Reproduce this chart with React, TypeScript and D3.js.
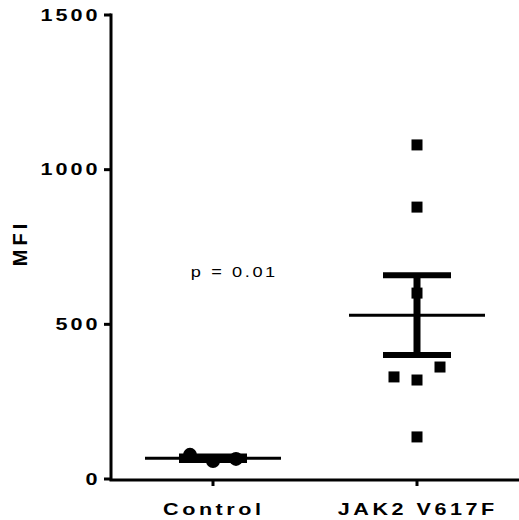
import React from "react";
import * as d3 from "d3";

const groups = ["Control", "JAK2 V617F"];
const controlValues = [78, 58, 65];
const controlJitter = [-1, 0, 1];
const jakValues = [1080, 879, 601, 362, 330, 320, 136];
const jakJitter = [0, 0, 0, 1, -1, 0, 0];
const yTicks = [0, 500, 1000, 1500];
const pLabel = "p = 0.01";
const yLabel = "MFI";

const W = 519;
const H = 520;
const FONT = "'Liberation Sans', Arial, Helvetica, sans-serif";

function stats(v: number[]) {
  const m = d3.mean(v) as number;
  const sd = d3.deviation(v) as number;
  return { mean: m, sem: sd / Math.sqrt(v.length) };
}

export default function App() {
  const x = d3.scalePoint<string>().domain(groups).range([111, 519]).padding(0.5);
  const y = d3.scaleLinear().domain([0, 1500]).range([479, 15]);
  const jitterStep = 23;

  const series = [
    { name: groups[0], values: controlValues, jitter: controlJitter, shape: "circle" },
    { name: groups[1], values: jakValues, jitter: jakJitter, shape: "square" },
  ];

  return (
    <svg width={W} height={H} style={{ position: "absolute", left: 0, top: 0 }}>
      <rect width={W} height={H} fill="#fff" />
      {/* y axis */}
      <line x1={111} x2={111} y1={y(1500) - 1.5} y2={y(0) + 1.5} stroke="#000" strokeWidth={3} />
      {yTicks.map((t) => (
        <g key={t}>
          <line x1={104} x2={111} y1={y(t)} y2={y(t)} stroke="#000" strokeWidth={3} />
          <g transform={`translate(97.5, ${y(t)}) scale(1.35, 1)`}>
            <text
              x={0}
              y={0}
              dy="0.36em"
              textAnchor="end"
              fontFamily={FONT}
              fontWeight="bold"
              fontSize={16}
              letterSpacing={2.2}
              fill="#000"
              style={{ transform: "translateX(2.2px)" }}
            >
              {t}
            </text>
          </g>
        </g>
      ))}
      {/* x axis */}
      <line x1={109.5} x2={519} y1={480} y2={480} stroke="#000" strokeWidth={3} />
      {groups.map((g) => (
        <g key={g}>
          <line x1={x(g)} x2={x(g)} y1={480} y2={486} stroke="#000" strokeWidth={3} />
          <g transform={`translate(${(x(g) as number) - 1}, 515) scale(1.35, 1)`}>
            <text
              x={1.3}
              y={0}
              textAnchor="middle"
              fontFamily={FONT}
              fontWeight="bold"
              fontSize={16}
              letterSpacing={2.6}
              fill="#000"
            >
              {g}
            </text>
          </g>
        </g>
      ))}
      {/* y label */}
      <text
        transform={`translate(27, 245) rotate(-90)`}
        x={2}
        textAnchor="middle"
        fontFamily={FONT}
        fontWeight="bold"
        fontSize={20}
        letterSpacing={4}
        fill="#000"
      >
        {yLabel}
      </text>
      {/* points and error bars */}
      {series.map((s) => {
        const cx = x(s.name) as number;
        const st = stats(s.values);
        return (
          <g key={s.name}>
            {s.values.map((v, i) =>
              s.shape === "circle" ? (
                <circle key={i} cx={cx + s.jitter[i] * jitterStep} cy={y(v)} r={7} fill="#000" />
              ) : (
                <rect
                  key={i}
                  x={cx + s.jitter[i] * jitterStep - 5.5}
                  y={y(v) - 5.5}
                  width={11}
                  height={11}
                  fill="#000"
                />
              )
            )}
            <line x1={cx} x2={cx} y1={y(st.mean + st.sem)} y2={y(st.mean - st.sem)} stroke="#000" strokeWidth={7} />
            <line x1={cx - 34} x2={cx + 34} y1={y(st.mean + st.sem)} y2={y(st.mean + st.sem)} stroke="#000" strokeWidth={6} />
            <line x1={cx - 34} x2={cx + 34} y1={y(st.mean - st.sem)} y2={y(st.mean - st.sem)} stroke="#000" strokeWidth={6} />
            <line x1={cx - 68} x2={cx + 68} y1={y(st.mean)} y2={y(st.mean)} stroke="#000" strokeWidth={3} />
          </g>
        );
      })}
      <g transform="translate(233, 277) scale(1.3, 1)">
        <text
          x={1}
          y={0}
          textAnchor="middle"
          fontFamily={FONT}
          fontSize={14}
          letterSpacing={2}
          fill="#000"
        >
          {pLabel}
        </text>
      </g>
    </svg>
  );
}
